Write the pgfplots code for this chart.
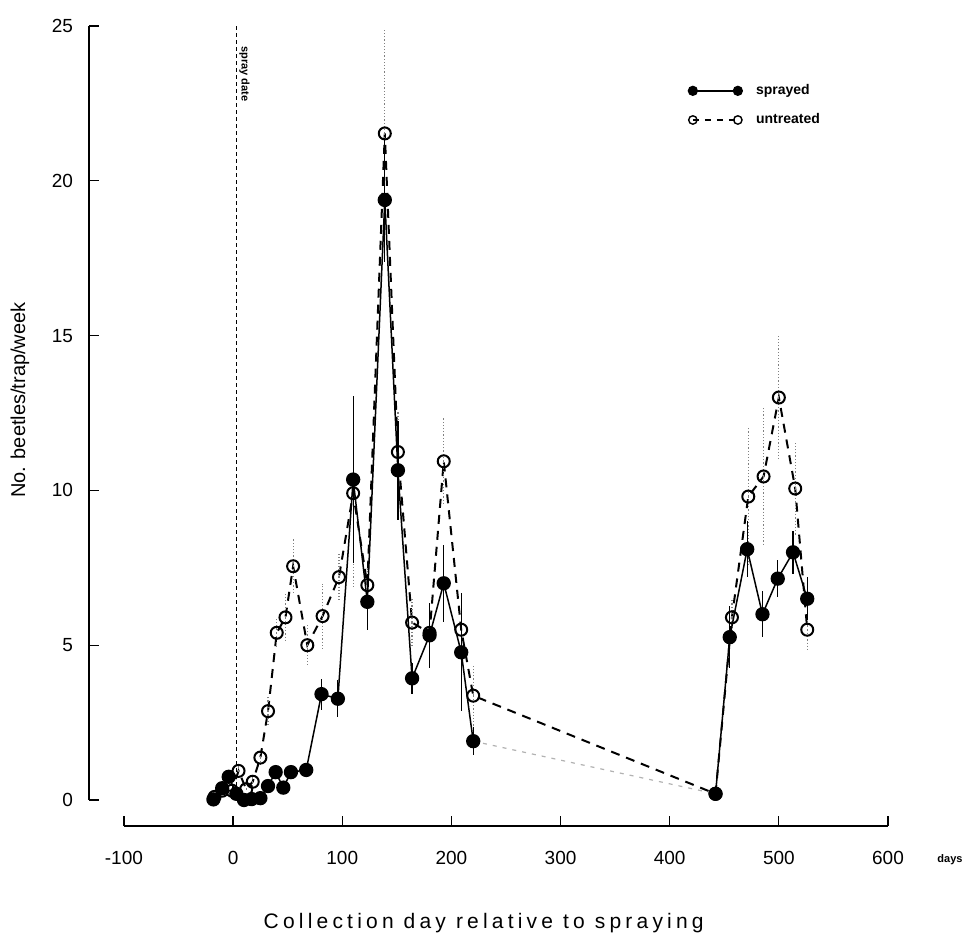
\documentclass[border=0pt]{standalone}
\usepackage{fontspec}
\setmainfont{Liberation Sans}
\usepackage{pgfplots}
\pgfplotsset{compat=1.18}
\usepackage{pgfplotstable}

\pgfplotstableread{
x y e
-18 0.02 0
-10 0.38 0.1
-4 0.75 0.2
3 0.2 0.1
10 0.0 0
17 0.03 0
25 0.06 0.05
32 0.45 0.2
39 0.9 0.2
46 0.4 0.2
53 0.9 0.2
67 0.97 0.2
81 3.42 0.5
96 3.27 0.6
110 10.35 2.7
123 6.4 0.9
139 19.38 2.0
151 10.65 1.6
164 3.93 0.5
180 5.32 1.05
193 7.0 1.25
209 4.77 1.9
220 1.9 0.45
}\sprA

\pgfplotstableread{
x y e
442 0.2 0.1
455 5.26 1.0
471 8.1 0.9
485 6.0 0.75
499 7.15 0.6
513 8.0 0.7
526 6.5 0.7
}\sprB

\pgfplotstableread{
x y
220 1.9
442 0.2
}\sprGap

\pgfplotstableread{
x y e
-17 0.1 0
-10 0.3 0
-1 0.3 0.1
5 0.94 0.15
12 0.35 0.1
18 0.59 0.15
25 1.37 0.3
32 2.87 0.5
40 5.4 0.5
48 5.9 0.75
55 7.55 0.9
68 5.0 0.65
82 5.94 1.05
97 7.2 0.75
110 9.91 3.0
123 6.94 0.6
139 21.53 3.4
151 11.24 1.3
164 5.73 0.75
180 5.4 1.0
193 10.94 1.4
209 5.5 1.2
220 3.37 1.0
442 0.2 0.1
457 5.9 0.6
472 9.8 2.2
486 10.45 2.2
500 13.0 2.0
515 10.06 1.5
526 5.5 0.7
}\untr

\begin{document}
\begin{tikzpicture}
\path[use as bounding box] (-44.5pt,-56pt) rectangle (437pt,413pt);
\begin{axis}[
  scale only axis, width=399.5pt, height=400pt,
  at={(0pt,0pt)}, anchor=south west,
  xmin=-132, xmax=600, ymin=-0.84, ymax=25,
  axis x line*=bottom, axis y line*=left,
  axis line style={draw=none},
  xtick={-100,0,100,200,300,400,500,600},
  ytick={0,5,10,15,20,25},
  tick align=inside, major tick length=5pt,
  tick style={black, line width=0.6pt},
  minor tick num=0,
  /pgf/number format/assume math mode=true,
  ticklabel style={font=\fontsize{9.5}{11}\selectfont},
  xticklabel style={yshift=-9pt},
  yticklabel style={xshift=-4.5pt},
  xlabel={\addfontfeature{LetterSpace=20}Collection day relative to spraying},
  ylabel={No. beetles/trap/week},
  xlabel style={at={(rel axis cs:0.494,0)}, anchor=center, yshift=-48.5pt, font=\fontsize{10.5}{12}\selectfont},
  ylabel style={at={([xshift=-34.5pt]rel axis cs:0,0.5325)}, anchor=center, font=\fontsize{10}{12}\selectfont},
  clip=false,
  legend style={at={(axis cs:417,23.26)}, anchor=north west, draw=none, fill=none,
    font=\fontsize{7}{8}\bfseries\selectfont, row sep=4pt, column sep=5pt, inner sep=0pt,
    nodes={inner sep=2pt}},
  legend cell align=left,
  legend image code/.code={\draw[#1, mark size=2.1pt, mark repeat=1, mark phase=1] plot coordinates {(0pt,0pt) (22.5pt,0pt)};},
]
\addlegendimage{black, line width=0.9pt, mark=*, mark options={solid}}
\addlegendentry{sprayed}
\addlegendimage{black, line width=0.7pt, dash pattern=on 3pt off 3pt, mark=o, mark options={solid, line width=0.7pt}}
\addlegendentry{untreated}

% spray date line
\addplot[forget plot, black, line width=0.6pt, dash pattern=on 2pt off 1.5pt] coordinates {(3,0) (3,25)};

% untreated
\addplot[forget plot, black, line width=1pt, dash pattern=on 4.5pt off 3.5pt,
  mark=o, mark size=3pt, mark options={solid, line width=1pt, fill=white},
  error bars/.cd, y dir=both, y explicit, error mark=none,
  error bar style={gray, line width=0.6pt, densely dotted}]
  table[x=x, y=y, y error=e] {\untr};

% sprayed gap (faint)
\addplot[forget plot, gray!60, line width=0.6pt, dash pattern=on 2pt off 3pt] table[x=x,y=y] {\sprGap};

% sprayed
\addplot[forget plot, black, line width=0.75pt,
  mark=*, mark size=3.2pt, mark options={solid},
  error bars/.cd, y dir=both, y explicit, error mark=none,
  error bar style={black, line width=0.6pt, solid}]
  table[x=x, y=y, y error=e] {\sprA};
\addplot[forget plot, black, line width=0.75pt,
  mark=*, mark size=3.2pt, mark options={solid},
  error bars/.cd, y dir=both, y explicit, error mark=none,
  error bar style={black, line width=0.6pt, solid}]
  table[x=x, y=y, y error=e] {\sprB};

% axis lines
\draw[black, line width=0.8pt] (axis cs:-132,0) -- (axis cs:-132,25);
\draw[black, line width=0.8pt] (axis cs:-100,-0.84) -- (axis cs:600,-0.84);

\node[rotate=-90, font=\fontsize{5.5}{6}\bfseries\selectfont] at (axis cs:10.5,23.45) {spray date};
\node[font=\fontsize{5.5}{6}\bfseries\selectfont] at ([xshift=31pt, yshift=-17pt]rel axis cs:1,0) {days};
\end{axis}
\end{tikzpicture}
\end{document}
